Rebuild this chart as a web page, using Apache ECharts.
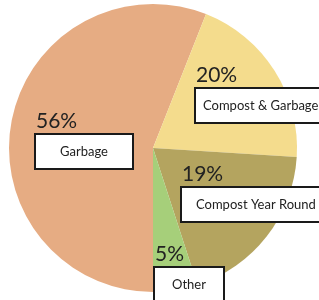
<!DOCTYPE html>
<html lang="en">
<head>
    <meta charset="UTF-8">
    <title>Pie</title>
    <script src="https://cdn.jsdelivr.net/npm/echarts@6/dist/echarts.min.js"></script>
    <style>
        html, body { margin: 0; padding: 0; background: #fff; }
    </style>
</head>
<body>
<div id="main" style="width: 319px;height:300px;"></div>
<script type="text/javascript">
    // data
    var names = ['Garbage', 'Compost & Garbage', 'Compost Year Round', 'Other'];
    var values = [56, 20, 19, 5];
    var colors = ['#e6ac83', '#f4dc8d', '#b4a45f', '#a6cf7a'];

    // label placement: [x, y, box width, text align, box left padding]
    var labelBox = [
        [36, 108, 80, 'center', 8],
        [196, 62, 140, 'left', 7],
        [182, 161, 150, 'left', 14],
        [155, 241, 52, 'center', 8]
    ];

    var myChart = echarts.init(document.getElementById('main'));

    var seriesData = [];
    for (var i = 0; i < names.length; i++) {
        var lb = labelBox[i];
        seriesData.push({
            name: names[i],
            value: values[i],
            itemStyle: {color: colors[i]},
            label: {
                rich: {
                    b: {
                        width: lb[2],
                        align: lb[3],
                        padding: [0, 8, 0, lb[4]]
                    }
                }
            }
        });
    }

    var option = {
        backgroundColor: '#fff',
        animation: false,
        series: [{
            type: 'pie',
            center: [153, 148],
            radius: 144,
            startAngle: 270,
            clockwise: true,
            avoidLabelOverlap: false,
            labelLine: {show: false},
            emphasis: {disabled: true},
            label: {
                show: true,
                position: 'inside',
                formatter: function (p) {
                    return '{p|' + p.value + '%}\n{b|' + p.name + '}';
                },
                rich: {
                    p: {
                        fontFamily: 'Lato',
                        fontSize: 21,
                        lineHeight: 27,
                        color: '#222',
                        align: 'left'
                    },
                    b: {
                        fontFamily: 'Lato',
                        fontSize: 13,
                        height: 33,
                        lineHeight: 33,
                        color: '#222',
                        backgroundColor: '#fff',
                        borderColor: '#1a1a1a',
                        borderWidth: 2
                    }
                }
            },
            labelLayout: function (params) {
                var lb = labelBox[params.dataIndex];
                return {
                    x: lb[0],
                    y: lb[1],
                    align: 'left',
                    verticalAlign: 'top',
                    hideOverlap: false
                };
            },
            data: seriesData
        }]
    };
    myChart.setOption(option);
</script>
</body>
</html>
